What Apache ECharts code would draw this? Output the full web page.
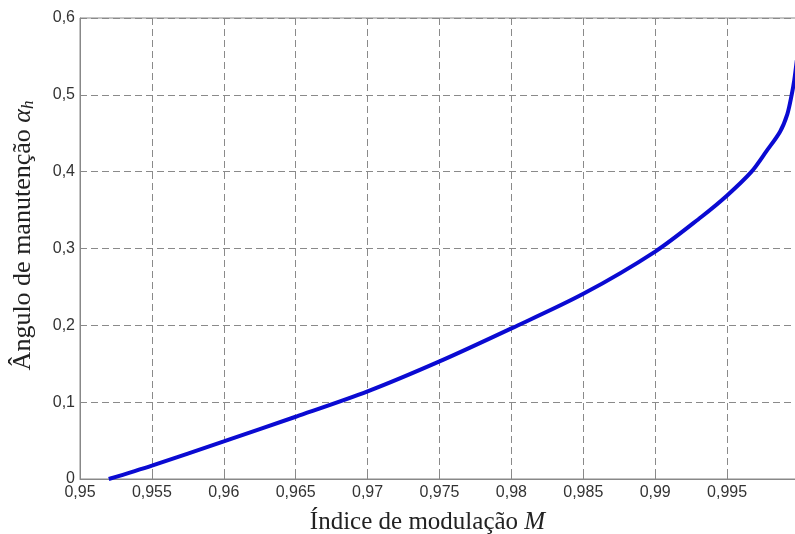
<!DOCTYPE html>
<html><head><meta charset="utf-8">
<script src="https://cdn.jsdelivr.net/npm/echarts@6/dist/echarts.min.js"></script>
<style>html,body{margin:0;padding:0;background:#fff}#c{width:795px;height:534px}</style>
</head><body><div id="c"></div>
<script>
const mValues = [0.952, 0.955, 0.96, 0.965, 0.97, 0.975, 0.98, 0.985, 0.99, 0.9932, 0.995, 0.9967, 0.99775, 0.99868, 0.99919, 0.99949, 0.99967, 0.99985];
const alphaValues = [0, 0.0175, 0.049, 0.081, 0.114, 0.153, 0.196, 0.241, 0.296, 0.341, 0.369, 0.400, 0.427, 0.452, 0.475, 0.500, 0.519, 0.545];
const xAxisTitle = ['Índice de modulação ', 'M'];
const yAxisTitle = ['Ângulo de manutenção ', 'α', 'h'];

const chart = echarts.init(document.getElementById('c'), null, {renderer: 'canvas'});
const fmt = v => String(+(+v).toFixed(3)).replace('.', ',');
const gridLine = {show: true, lineStyle: {color: '#8a8a8a', type: [7, 4], width: 1}};
chart.setOption({
  animation: false,
  grid: {left: 80, top: 18, width: 719, height: 461, show: true, borderColor: '#888', borderWidth: 1, containLabel: false, outerBoundsMode: 'none'},
  xAxis: {
    type: 'value', min: 0.95, max: 1.0, interval: 0.005,
    axisLine: {show: true, onZero: false, lineStyle: {color: '#888'}},
    axisTick: {show: true, inside: true, length: 4, lineStyle: {color: '#888'}},
    axisLabel: {formatter: fmt, color: '#333', fontFamily: 'Liberation Sans', fontSize: 16, margin: 6, showMaxLabel: false},
    splitLine: gridLine,
    name: '{n|' + xAxisTitle[0] + '}{i|' + xAxisTitle[1] + '}',
    nameLocation: 'middle', nameGap: 31,
    nameTextStyle: {padding: [0, 24, 0, 0], rich: {
      n: {fontFamily: 'Liberation Serif', fontSize: 25, color: '#222'},
      i: {fontFamily: 'Liberation Serif', fontSize: 25, fontStyle: 'italic', color: '#222'}
    }}
  },
  yAxis: {
    type: 'value', min: 0, max: 0.6, interval: 0.1,
    axisLine: {show: true, lineStyle: {color: '#888'}},
    axisTick: {show: true, inside: true, length: 4, lineStyle: {color: '#888'}},
    axisLabel: {formatter: fmt, color: '#333', fontFamily: 'Liberation Sans', fontSize: 16, margin: 5},
    splitLine: gridLine,
    name: '{n|' + yAxisTitle[0] + '}{i|' + yAxisTitle[1] + '}{s|' + yAxisTitle[2] + '}',
    nameLocation: 'middle', nameGap: 43, nameRotate: 90,
    nameTextStyle: {padding: [0, 0, 0, 26], rich: {
      n: {fontFamily: 'Liberation Serif', fontSize: 26, color: '#222'},
      i: {fontFamily: 'Liberation Serif', fontSize: 26, fontStyle: 'italic', color: '#222'},
      s: {fontFamily: 'Liberation Serif', fontSize: 17, fontStyle: 'italic', color: '#222', padding: [10, 0, 0, 0]}
    }}
  },
  series: [{
    type: 'line', data: mValues.map((m, i) => [m, alphaValues[i]]),
    showSymbol: false, smooth: 0.3, clip: true,
    lineStyle: {color: '#0a0ad2', width: 4}
  }]
});
</script></body></html>
